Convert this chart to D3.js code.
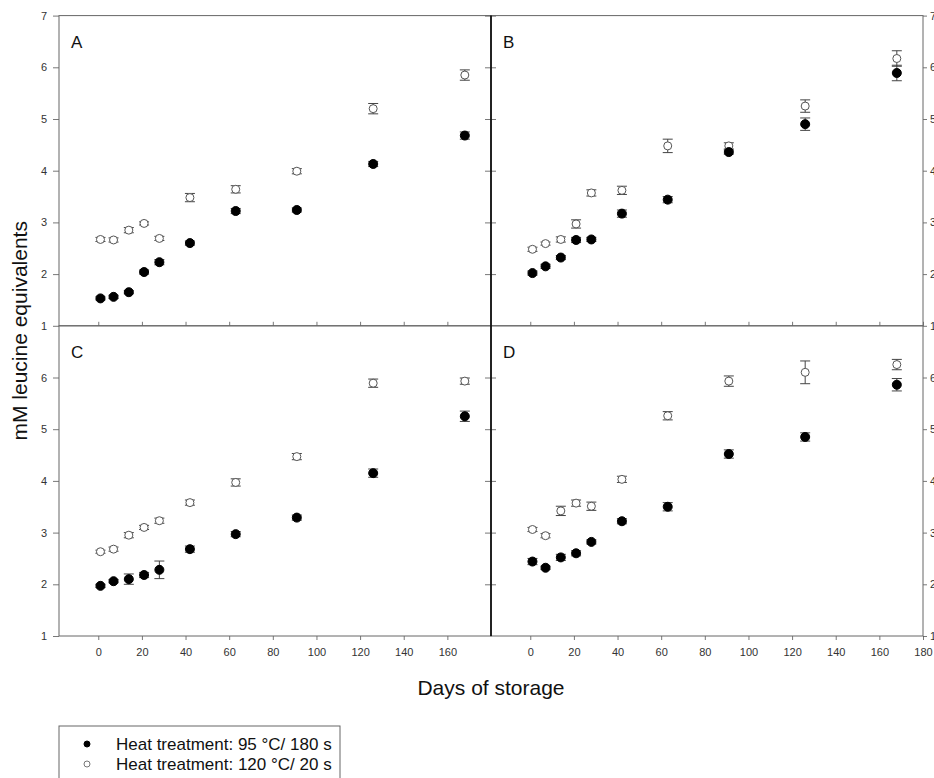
<!DOCTYPE html>
<html>
<head>
<meta charset="utf-8">
<script src="https://cdn.jsdelivr.net/npm/d3@7"></script>
<style>
  body { margin: 0; background: #fff; }
  svg { font-family: "Liberation Sans", Arial, sans-serif; }
</style>
</head>
<body>
<div id="chart"></div>
<script>
// storage days sampled
var days = [1, 7, 14, 21, 28, 42, 63, 91, 126, 168];

// panel A
var aFilled    = [1.53, 1.56, 1.65, 2.04, 2.23, 2.60, 3.22, 3.24, 4.13, 4.68];
var aFilledErr = [0.03, 0.03, 0.03, 0.04, 0.05, 0.04, 0.05, 0.04, 0.05, 0.07];
var aOpen      = [2.67, 2.66, 2.85, 2.98, 2.69, 3.48, 3.64, 3.99, 5.20, 5.85];
var aOpenErr   = [0.04, 0.04, 0.05, 0.03, 0.04, 0.08, 0.07, 0.05, 0.10, 0.10];
// panel B
var bFilled    = [2.02, 2.15, 2.32, 2.66, 2.67, 3.17, 3.44, 4.36, 4.90, 5.89];
var bFilledErr = [0.04, 0.04, 0.04, 0.05, 0.04, 0.07, 0.06, 0.04, 0.12, 0.15];
var bOpen      = [2.48, 2.59, 2.67, 2.97, 3.57, 3.62, 4.48, 4.48, 5.25, 6.17];
var bOpenErr   = [0.04, 0.03, 0.05, 0.08, 0.06, 0.08, 0.13, 0.06, 0.12, 0.15];
// panel C
var cFilled    = [1.97, 2.06, 2.10, 2.18, 2.28, 2.68, 2.97, 3.29, 4.15, 5.25];
var cFilledErr = [0.03, 0.03, 0.10, 0.05, 0.17, 0.06, 0.05, 0.05, 0.08, 0.10];
var cOpen      = [2.63, 2.68, 2.95, 3.10, 3.23, 3.58, 3.97, 4.47, 5.89, 5.93];
var cOpenErr   = [0.03, 0.04, 0.05, 0.04, 0.05, 0.05, 0.07, 0.06, 0.08, 0.06];
// panel D
var dFilled    = [2.44, 2.32, 2.52, 2.60, 2.82, 3.22, 3.50, 4.52, 4.85, 5.86];
var dFilledErr = [0.06, 0.03, 0.06, 0.05, 0.04, 0.05, 0.08, 0.08, 0.08, 0.12];
var dOpen      = [3.06, 2.94, 3.42, 3.57, 3.51, 4.03, 5.26, 5.93, 6.10, 6.25];
var dOpenErr   = [0.04, 0.04, 0.09, 0.06, 0.08, 0.06, 0.08, 0.10, 0.22, 0.10];

var yTicks = [1, 2, 3, 4, 5, 6, 7];
var xTicks = [0, 20, 40, 60, 80, 100, 120, 140, 160, 180];
var legendLabels = ["Heat treatment: 95 \u00B0C/ 180 s", "Heat treatment: 120 \u00B0C/ 20 s"];

var W = 934, H = 778;
var x0 = 59, xMid = 491, x1 = 923;
var y0 = 15.6, yMid = 325.8, y1 = 636;
var pw = xMid - x0, ph = yMid - y0;

var svg = d3.select('#chart').append('svg')
  .attr('width', W).attr('height', H);

var panels = [
  { label: 'A', col: 0, row: 0, filled: aFilled, fErr: aFilledErr, open: aOpen, oErr: aOpenErr },
  { label: 'B', col: 1, row: 0, filled: bFilled, fErr: bFilledErr, open: bOpen, oErr: bOpenErr },
  { label: 'C', col: 0, row: 1, filled: cFilled, fErr: cFilledErr, open: cOpen, oErr: cOpenErr },
  { label: 'D', col: 1, row: 1, filled: dFilled, fErr: dFilledErr, open: dOpen, oErr: dOpenErr }
];

function styleAxis(g, showLabels) {
  g.select('.domain').remove();
  g.selectAll('.tick line').attr('stroke', '#555').attr('stroke-width', 0.8);
  g.selectAll('.tick text').attr('fill', '#333').attr('font-size', 11);
  if (!showLabels) g.selectAll('.tick text').remove();
}

panels.forEach(function(p) {
  var px = p.col === 0 ? x0 : xMid;
  var py = p.row === 0 ? y0 : yMid;

  var x = d3.scaleLinear().domain([-18, 180]).range([px, px + pw]);
  var y = d3.scaleLinear().domain([1, 7]).range([py + ph, py]);

  var g = svg.append('g');

  // y ticks
  var yVals = p.row === 0 ? yTicks : yTicks.slice(0, 6);
  if (p.col === 0) {
    var la = g.append('g').attr('transform', 'translate(' + px + ',0)')
      .call(d3.axisLeft(y).tickValues(yVals).tickSize(6).tickPadding(6).tickFormat(d3.format('d')));
    styleAxis(la, true);
    var ra = g.append('g').attr('transform', 'translate(' + (px + pw) + ',0)')
      .call(d3.axisRight(y).tickValues(yVals.slice(1)).tickSize(5));
    styleAxis(ra, false);
  } else {
    var la2 = g.append('g').attr('transform', 'translate(' + px + ',0)')
      .call(d3.axisLeft(y).tickValues(yVals.slice(1)).tickSize(6));
    styleAxis(la2, false);
    var ra2 = g.append('g').attr('transform', 'translate(' + (px + pw) + ',0)')
      .call(d3.axisRight(y).tickValues(yVals).tickSize(4).tickPadding(3).tickFormat(d3.format('d')));
    styleAxis(ra2, true);
  }

  // x ticks
  var xVals = p.col === 0 ? xTicks.slice(0, 9) : xTicks;
  if (p.row === 0) {
    var ta = g.append('g').attr('transform', 'translate(0,' + (py + ph) + ')')
      .call(d3.axisTop(x).tickValues(xVals).tickSize(4));
    styleAxis(ta, false);
  } else {
    var ba = g.append('g').attr('transform', 'translate(0,' + (py + ph) + ')')
      .call(d3.axisBottom(x).tickValues(xVals).tickSize(4).tickPadding(8).tickFormat(d3.format('d')));
    styleAxis(ba, true);
  }

  // frame
  g.append('rect')
    .attr('x', px).attr('y', py).attr('width', pw).attr('height', ph)
    .attr('fill', 'none').attr('stroke', '#666').attr('stroke-width', 1);

  g.append('text')
    .attr('x', px + 12).attr('y', py + 32)
    .attr('font-size', 17).attr('fill', '#111')
    .text(p.label);

  var series = [
    { vals: p.open, err: p.oErr, fill: '#fff', stroke: '#555' },
    { vals: p.filled, err: p.fErr, fill: '#000', stroke: '#000' }
  ];

  series.forEach(function(s) {
    var pts = days.map(function(d, i) { return { d: d, v: s.vals[i], e: s.err[i] }; });
    var eb = g.append('g').selectAll('g').data(pts).enter().append('g')
      .attr('stroke', '#444').attr('stroke-width', 1);
    eb.append('line')
      .attr('x1', function(d) { return x(d.d); }).attr('x2', function(d) { return x(d.d); })
      .attr('y1', function(d) { return y(d.v - d.e); }).attr('y2', function(d) { return y(d.v + d.e); });
    eb.append('line')
      .attr('x1', function(d) { return x(d.d) - 5; }).attr('x2', function(d) { return x(d.d) + 5; })
      .attr('y1', function(d) { return y(d.v - d.e); }).attr('y2', function(d) { return y(d.v - d.e); });
    eb.append('line')
      .attr('x1', function(d) { return x(d.d) - 5; }).attr('x2', function(d) { return x(d.d) + 5; })
      .attr('y1', function(d) { return y(d.v + d.e); }).attr('y2', function(d) { return y(d.v + d.e); });

    g.append('g').selectAll('circle').data(pts).enter().append('circle')
      .attr('cx', function(d) { return x(d.d); })
      .attr('cy', function(d) { return y(d.v); })
      .attr('r', s.fill === '#000' ? 4.5 : 4)
      .attr('fill', s.fill).attr('stroke', s.stroke).attr('stroke-width', 1);
  });
});

// central divider
svg.append('line')
  .attr('x1', xMid).attr('x2', xMid).attr('y1', y0).attr('y2', y1)
  .attr('stroke', '#000').attr('stroke-width', 1.5);

// axis titles
svg.append('text')
  .attr('transform', 'translate(27,' + (yMid + 5) + ') rotate(-90)')
  .attr('text-anchor', 'middle').attr('font-size', 21).attr('fill', '#111')
  .text('mM leucine equivalents');

svg.append('text')
  .attr('x', xMid).attr('y', 695)
  .attr('text-anchor', 'middle').attr('font-size', 21).attr('fill', '#111')
  .text('Days of storage');

// legend
var lg = svg.append('g');
lg.append('rect')
  .attr('x', x0).attr('y', 726).attr('width', 281).attr('height', 70)
  .attr('fill', '#fff').attr('stroke', '#666').attr('stroke-width', 1);
legendLabels.forEach(function(t, i) {
  var ly = 744 + i * 20;
  lg.append('circle')
    .attr('cx', 87).attr('cy', ly).attr('r', 3)
    .attr('fill', i === 0 ? '#000' : '#fff')
    .attr('stroke', i === 0 ? '#000' : '#777').attr('stroke-width', 1);
  lg.append('text')
    .attr('x', 116).attr('y', ly + 6)
    .attr('font-size', 17).attr('fill', '#111')
    .text(t);
});
</script>
</body>
</html>
